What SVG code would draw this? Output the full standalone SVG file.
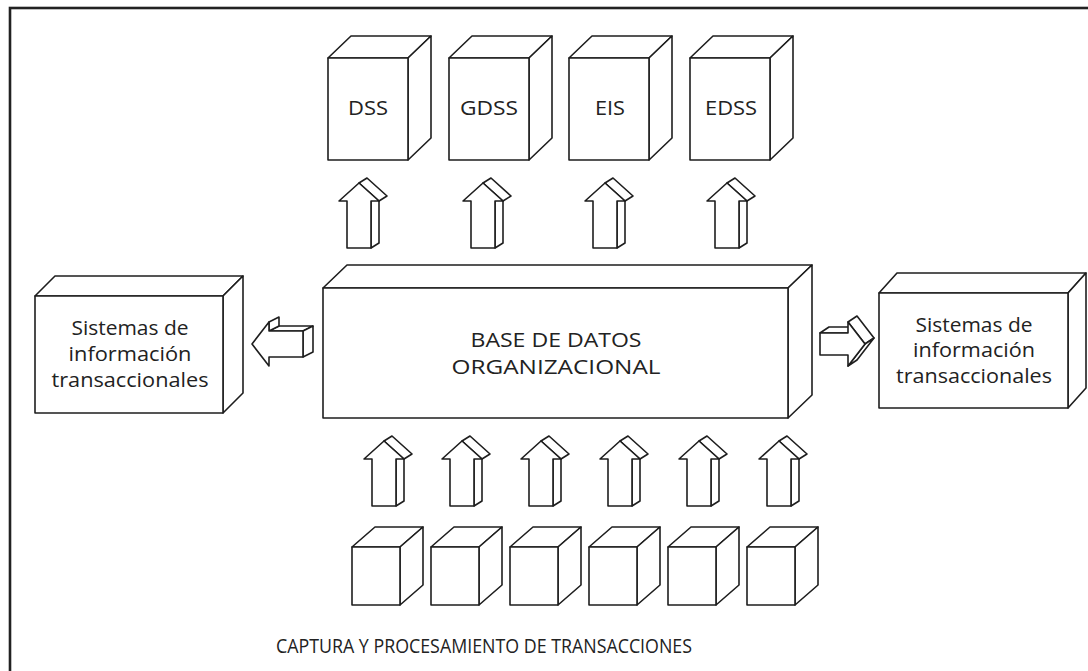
<svg xmlns="http://www.w3.org/2000/svg" xmlns:xlink="http://www.w3.org/1999/xlink" width="1088" height="671" viewBox="0 0 1088 671">
<style>
.s{fill:#fff;stroke:#1e1e1e;stroke-width:1.6;stroke-linejoin:round}
.t{font-family:"Open Sans","Liberation Sans",sans-serif;fill:#222;text-anchor:middle;font-size:20px}
.frame{fill:none;stroke:#222;stroke-width:2.6}
</style>
<defs>
<g id="arrowUp">
<path class="s" d="M12,0 L20,-5 L20,-52 L12,-47 Z"/>
<path class="s" d="M0,-65 L20,-47 L28,-52 L8,-70 Z"/>
<path class="s" d="M-12,0 L-12,-47 L-20,-47 L0,-65 L20,-47 L12,-47 L12,0 Z"/>
</g>
<g id="arrowLeft">
<path class="s" d="M17,-13 L51,-13 L61,-18 L27,-18 Z"/>
<path class="s" d="M17,-22 L27,-27 L27,-18 L17,-13 Z"/>
<path class="s" d="M51,-13 L61,-18 L61,8 L51,13 Z"/>
<path class="s" d="M0,0 L17,-22 L17,-13 L51,-13 L51,13 L17,13 L17,22 Z"/>
</g>
<g id="arrowRight">
<path class="s" d="M0,-11 L9,-17 L37,-17 L28,-11 Z"/>
<path class="s" d="M28,-22 L37,-28 L54,-6 L45,0 Z"/>
<path class="s" d="M45,0 L54,-6 L37,16 L28,22 Z"/>
<path class="s" d="M0,-11 L28,-11 L28,-22 L45,0 L28,22 L28,11 L0,11 Z"/>
</g>
<g id="cube">
<path class="s" d="M0,0 L23,-20 L71,-20 L48,0 Z"/>
<path class="s" d="M48,0 L71,-20 L71,38 L48,58 Z"/>
<rect class="s" x="0" y="0" width="48" height="58"/>
</g>
</defs>
<rect width="1088" height="671" fill="#fff"/>
<rect class="frame" x="10" y="8" width="1095" height="690"/>

<g id="node-dss">
<path class="s" d="M328,58 L351,36 L431,36 L408,58 Z"/>
<path class="s" d="M408,58 L431,36 L431,138 L408,160 Z"/>
<rect class="s" x="328" y="58" width="80" height="102"/>
<text class="t" x="368" y="115" font-size="21" textLength="40" lengthAdjust="spacingAndGlyphs">DSS</text>
</g>
<g id="node-gdss">
<path class="s" d="M449,58 L472,36 L552,36 L529,58 Z"/>
<path class="s" d="M529,58 L552,36 L552,138 L529,160 Z"/>
<rect class="s" x="449" y="58" width="80" height="102"/>
<text class="t" x="489" y="115" font-size="21" textLength="58" lengthAdjust="spacingAndGlyphs">GDSS</text>
</g>
<g id="node-eis">
<path class="s" d="M569,58 L592,36 L672,36 L649,58 Z"/>
<path class="s" d="M649,58 L672,36 L672,138 L649,160 Z"/>
<rect class="s" x="569" y="58" width="80" height="102"/>
<text class="t" x="610" y="115" font-size="21" textLength="30" lengthAdjust="spacingAndGlyphs">EIS</text>
</g>
<g id="node-edss">
<path class="s" d="M690,58 L713,36 L793,36 L770,58 Z"/>
<path class="s" d="M770,58 L793,36 L793,138 L770,160 Z"/>
<rect class="s" x="690" y="58" width="80" height="102"/>
<text class="t" x="731" y="115" font-size="21" textLength="52" lengthAdjust="spacingAndGlyphs">EDSS</text>
</g>

<g id="node-base-datos">
<path class="s" d="M323,288 L347,265 L812,265 L788,288 Z"/>
<path class="s" d="M788,288 L812,265 L812,395 L788,418 Z"/>
<rect class="s" x="323" y="288" width="465" height="130"/>
<text class="t" x="556" y="347" textLength="171" lengthAdjust="spacingAndGlyphs">BASE DE DATOS</text>
<text class="t" x="556" y="374" textLength="209" lengthAdjust="spacingAndGlyphs">ORGANIZACIONAL</text>
</g>

<g id="node-sit-left">
<path class="s" d="M35,296 L55,276 L243,276 L223,296 Z"/>
<path class="s" d="M223,296 L243,276 L243,393 L223,413 Z"/>
<rect class="s" x="35" y="296" width="188" height="117"/>
<text class="t" x="130" y="335" textLength="117" lengthAdjust="spacingAndGlyphs">Sistemas de</text>
<text class="t" x="130" y="361" textLength="123" lengthAdjust="spacingAndGlyphs">información</text>
<text class="t" x="130" y="387" textLength="157" lengthAdjust="spacingAndGlyphs">transaccionales</text>
</g>

<g id="node-sit-right">
<path class="s" d="M879,293 L897,273 L1086,273 L1068,293 Z"/>
<path class="s" d="M1068,293 L1086,273 L1086,388 L1068,408 Z"/>
<rect class="s" x="879" y="293" width="189" height="115"/>
<text class="t" x="974" y="332" textLength="117" lengthAdjust="spacingAndGlyphs">Sistemas de</text>
<text class="t" x="974" y="357" textLength="122" lengthAdjust="spacingAndGlyphs">información</text>
<text class="t" x="974" y="383" textLength="156" lengthAdjust="spacingAndGlyphs">transaccionales</text>
</g>

<g id="node-tps-1"><use xlink:href="#cube" x="352" y="547"/></g>
<g id="node-tps-2"><use xlink:href="#cube" x="431" y="547"/></g>
<g id="node-tps-3"><use xlink:href="#cube" x="510" y="547"/></g>
<g id="node-tps-4"><use xlink:href="#cube" x="589" y="547"/></g>
<g id="node-tps-5"><use xlink:href="#cube" x="668" y="547"/></g>
<g id="node-tps-6"><use xlink:href="#cube" x="747" y="547"/></g>

<g id="connectors">
<use xlink:href="#arrowUp" x="359" y="248"/>
<use xlink:href="#arrowUp" x="483" y="248"/>
<use xlink:href="#arrowUp" x="605" y="248"/>
<use xlink:href="#arrowUp" x="727" y="248"/>
<use xlink:href="#arrowLeft" x="252" y="344"/>
<use xlink:href="#arrowRight" x="820" y="344"/>
<use xlink:href="#arrowUp" x="384" y="506"/>
<use xlink:href="#arrowUp" x="462" y="506"/>
<use xlink:href="#arrowUp" x="541" y="506"/>
<use xlink:href="#arrowUp" x="620" y="506"/>
<use xlink:href="#arrowUp" x="699" y="506"/>
<use xlink:href="#arrowUp" x="779" y="506"/>
</g>

<g id="caption">
<text class="t" x="484" y="653" textLength="416" lengthAdjust="spacingAndGlyphs">CAPTURA Y PROCESAMIENTO DE TRANSACCIONES</text>
</g>
</svg>
